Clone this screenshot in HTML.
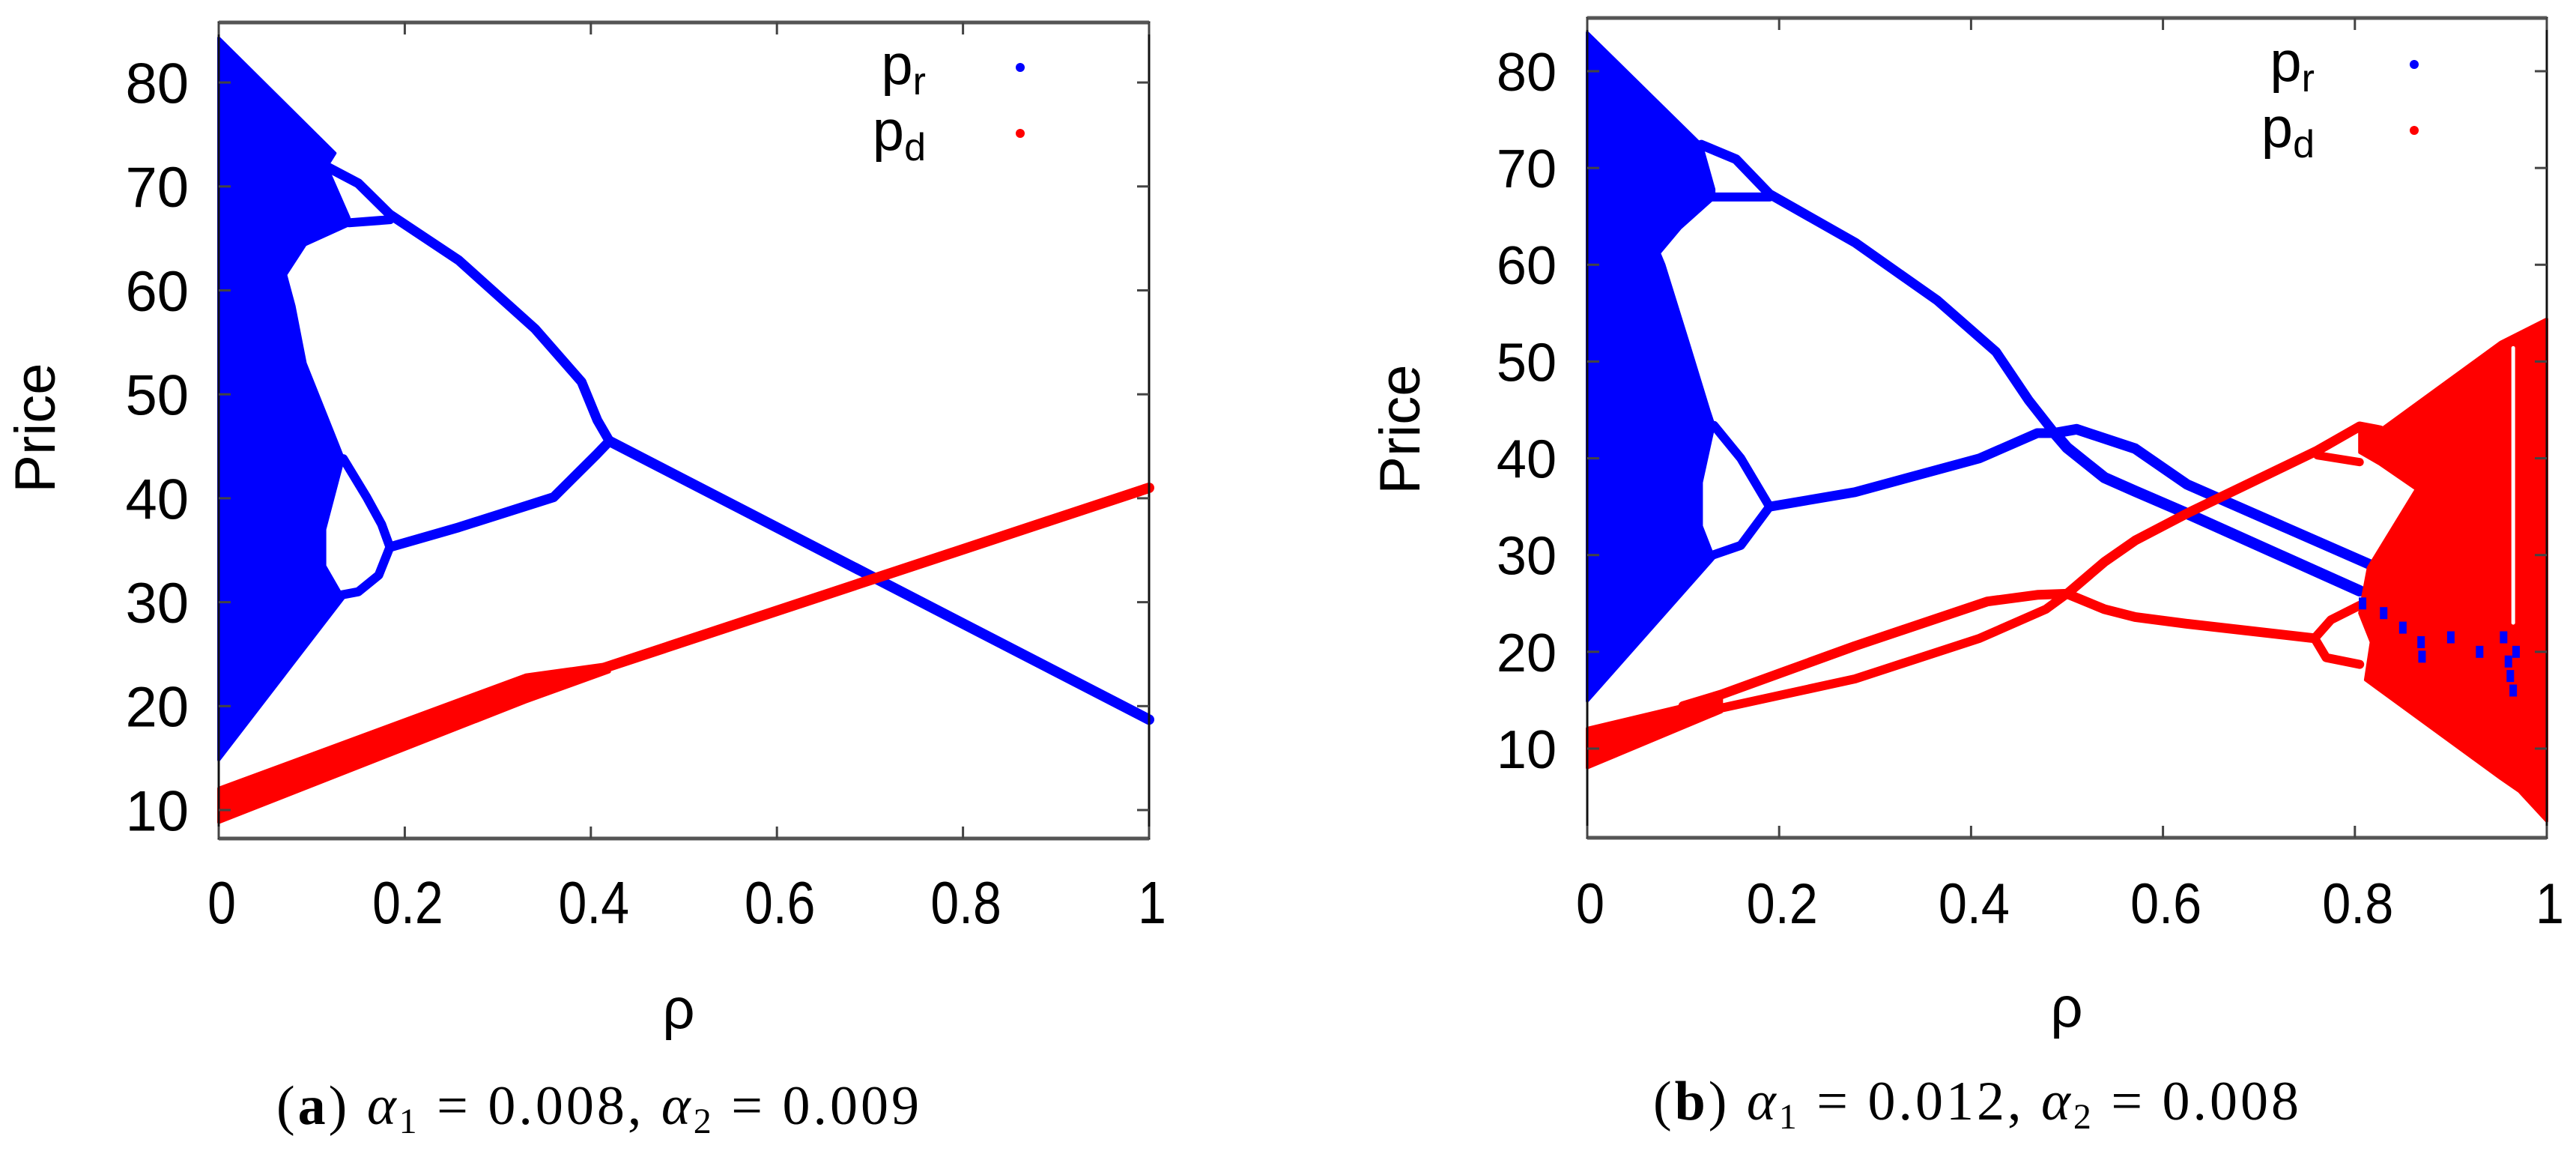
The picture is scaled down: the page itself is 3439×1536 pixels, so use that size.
<!DOCTYPE html>
<html><head><meta charset="utf-8"><style>
html,body{margin:0;padding:0;background:#fff;}
svg{display:block;}
</style></head><body>
<svg id="fig" width="3439" height="1536" viewBox="0 0 3439 1536" xmlns="http://www.w3.org/2000/svg" font-family="Liberation Sans, sans-serif"></svg>
<script>
// ---------- data (rho, price) ----------
const xTicks = [0, 0.2, 0.4, 0.6, 0.8, 1];
const xTickLabels = ["0", "0.2", "0.4", "0.6", "0.8", "1"];
const yTicks = [10, 20, 30, 40, 50, 60, 70, 80];
const yTickLabels = ["10", "20", "30", "40", "50", "60", "70", "80"];

// panel (a) p_r
const aBlueChaosRho   = [0, 0.125, 0.116, 0.14, 0.14, 0.093, 0.072, 0.081, 0.093, 0.126, 0.134, 0.114, 0.114, 0.134, 0];
const aBlueChaosPrice = [84.3, 73.2, 71.9, 67.0, 66.3, 64.4, 61.5, 58.5, 53.0, 45.6, 43.8, 37.0, 33.5, 30.4, 14.8];
const aBlueMainRho    = [0.116, 0.15, 0.184, 0.258, 0.34, 0.39, 0.407, 0.42, 0.406, 0.36, 0.258, 0.184];
const aBlueMainPrice  = [71.9, 70.3, 67.3, 62.9, 56.3, 51.2, 47.5, 45.5, 44.2, 40.1, 37.2, 35.3];
const aBlueLoopLowRho   = [0.14, 0.184];
const aBlueLoopLowPrice = [66.5, 66.8];
const aBlueSmallUpRho   = [0.134, 0.159, 0.175, 0.184];
const aBlueSmallUpPrice = [43.8, 40.1, 37.5, 35.3];
const aBlueSmallLowRho   = [0.126, 0.15, 0.172, 0.184];
const aBlueSmallLowPrice = [30.6, 31.0, 32.6, 35.3];
const aBlueTailRho   = [0.42, 1];
const aBlueTailPrice = [45.5, 18.7];
// panel (a) p_d
const aRedBandRho   = [0, 0.33, 0.42, 0.42, 0.33, 0];
const aRedBandPrice = [12.1, 23.0, 24.1, 23.3, 20.4, 8.8];
const aRedTailRho   = [0.415, 1];
const aRedTailPrice = [23.7, 41.0];

// panel (b) p_r
const bBlueChaosRho   = [0, 0.119, 0.132, 0.132, 0.097, 0.075, 0.08, 0.106, 0.127, 0.132, 0.119, 0.119, 0.132, 0];
const bBlueChaosPrice = [84.0, 72.4, 67.8, 66.9, 63.8, 61.2, 60.0, 51.7, 44.9, 43.4, 37.5, 33.0, 29.7, 14.9];
const bBlueMainRho   = [0.119, 0.155, 0.19, 0.279, 0.365, 0.426, 0.46, 0.487, 0.469, 0.409, 0.279, 0.19];
const bBlueMainPrice = [72.4, 70.9, 67.3, 62.3, 56.3, 51.0, 46.0, 42.6, 42.6, 40.0, 36.5, 35.0];
const bBlueLoopLowRho   = [0.13, 0.19];
const bBlueLoopLowPrice = [67.0, 67.0];
const bBlueSmallUpRho   = [0.132, 0.16, 0.19];
const bBlueSmallUpPrice = [43.4, 40.0, 35.0];
const bBlueSmallLowRho   = [0.125, 0.16, 0.19];
const bBlueSmallLowPrice = [29.8, 31.0, 35.0];
const bBlueUpperRho   = [0.487, 0.51, 0.571, 0.625, 0.823];
const bBlueUpperPrice = [42.6, 43.0, 41.0, 37.3, 28.7];
const bBlueLowerRho   = [0.487, 0.5, 0.539, 0.571, 0.625, 0.805];
const bBlueLowerPrice = [42.6, 41.1, 38.0, 36.6, 34.3, 26.3];
const bBlueSpeckRho   = [0.808, 0.83, 0.85, 0.869, 0.87, 0.9, 0.93, 0.955, 0.96, 0.962, 0.965, 0.968];
const bBlueSpeckPrice = [25.0, 24.0, 22.5, 21.0, 19.5, 21.5, 20.0, 21.5, 19.0, 17.5, 16.0, 20.0];
// panel (b) p_d
const bRedBandRho   = [0, 0.14, 0.14, 0];
const bRedBandPrice = [12.1, 15.4, 13.8, 8.0];
const bRedUpArmRho   = [0.1, 0.14, 0.279, 0.417, 0.47, 0.5];
const bRedUpArmPrice = [14.4, 15.6, 20.6, 25.2, 25.9, 26.0];
const bRedLowArmRho   = [0.1, 0.14, 0.279, 0.409, 0.478, 0.5];
const bRedLowArmPrice = [13.0, 14.2, 17.2, 21.4, 24.4, 26.0];
const bRedUpperRho   = [0.5, 0.539, 0.571, 0.625, 0.761, 0.805, 0.826];
const bRedUpperPrice = [26.0, 29.3, 31.5, 34.3, 40.8, 43.3, 42.9];
const bRedUpLoopLowRho   = [0.761, 0.805];
const bRedUpLoopLowPrice = [40.3, 39.6];
const bRedLowerRho   = [0.5, 0.539, 0.571, 0.625, 0.758];
const bRedLowerPrice = [26.0, 24.4, 23.6, 22.9, 21.4];
const bRedLoopRho   = [0.805, 0.775, 0.758, 0.77, 0.805];
const bRedLoopPrice = [24.8, 23.3, 21.4, 19.4, 18.7];
const bRedChaosRho   = [0.805, 0.826, 0.952, 1, 1, 0.971, 0.952, 0.811, 0.817, 0.805, 0.814, 0.864, 0.826, 0.805];
const bRedChaosPrice = [43.3, 42.9, 52.0, 54.4, 2.5, 5.6, 6.9, 17.1, 21.0, 24.0, 28.7, 36.8, 39.4, 40.6];
const bWhiteStripeRho   = [0.965, 0.965];
const bWhiteStripePrice = [51.4, 23.0];

// ---------- drawing ----------
const NS = "http://www.w3.org/2000/svg";
const svg = document.getElementById("fig");
function mk(tag, attrs, parent) {
  const e = document.createElementNS(NS, tag);
  for (const k in attrs) e.setAttribute(k, attrs[k]);
  (parent || svg).appendChild(e);
  return e;
}
function panel(cfg) {
  const g = mk("g", {});
  
  
  const sx = r => cfg.x0 + (cfg.x1 - cfg.x0) * r;
  const sy = p => cfg.y10 - (p - 10) * cfg.ppu;
  cfg.sx = sx; cfg.sy = sy; cfg.g = g;
  return cfg;
}
function poly(P, rho, price, color, name) {
  const pts = rho.map((r, i) => P.sx(r).toFixed(1) + "," + P.sy(price[i]).toFixed(1)).join(" ");
  const e = mk("polygon", {points: pts, fill: color, stroke: color, "stroke-width": 4, "stroke-linejoin": "round"}, P.g);
  
  
}
function line(P, rho, price, color, w, name) {
  const pts = rho.map((r, i) => P.sx(r).toFixed(1) + "," + P.sy(price[i]).toFixed(1)).join(" ");
  const e = mk("polyline", {points: pts, fill: "none", stroke: color, "stroke-width": w, "stroke-linejoin": "round", "stroke-linecap": "round"}, P.g);
  
  
}
function dots(P, rho, price, color, r, name) {
  rho.forEach((v, i) => {
    const c = mk("rect", {x: P.sx(v) - r, y: P.sy(price[i]) - r * 1.6, width: r * 2, height: r * 3.2, fill: color}, P.g);
    
    
  });
}
function axes(P) {
  const g = P.g;
  const fr = mk("rect", {x: P.x0, y: P.yTop, width: P.x1 - P.x0, height: P.yBot - P.yTop, fill: "none", stroke: "#111", "stroke-width": 3}, g);
  
  
  mk("line", {x1: P.x0, y1: P.yTop, x2: P.x1, y2: P.yTop, stroke: "#555", "stroke-width": 5}, g);
  mk("line", {x1: P.x0, y1: P.yBot, x2: P.x1, y2: P.yBot, stroke: "#555", "stroke-width": 5}, g);
  xTicks.forEach((t, i) => {
    const x = P.sx(t);
    mk("line", {x1: x, y1: P.yBot, x2: x, y2: P.yBot - 16, stroke: "#444", "stroke-width": 3}, g);
    mk("line", {x1: x, y1: P.yTop, x2: x, y2: P.yTop + 16, stroke: "#444", "stroke-width": 3}, g);
    const tx = mk("text", {x: 0, y: 0, "font-size": P.xfs, "text-anchor": "middle", fill: "#000",
      transform: `translate(${x + 4},${P.xLabY}) scale(${P.xsc},1)`}, g);
    tx.textContent = xTickLabels[i];
    
    
  });
  yTicks.forEach((t, i) => {
    const y = P.sy(t);
    mk("line", {x1: P.x0, y1: y, x2: P.x0 + 16, y2: y, stroke: "#444", "stroke-width": 3}, g);
    mk("line", {x1: P.x1, y1: y, x2: P.x1 - 16, y2: y, stroke: "#444", "stroke-width": 3}, g);
    const ty = mk("text", {x: P.yLabX, y: y + P.yfs * 0.36, "font-size": P.yfs, "text-anchor": "end", fill: "#000"}, g);
    ty.textContent = yTickLabels[i];
    
    
  });
  const yl = mk("text", {x: 0, y: 0, "font-size": 76, "text-anchor": "middle", transform: `translate(${P.yTitleX},${P.yTitleY}) rotate(-90)`}, g);
  yl.textContent = "Price";
  
  
  const xl = mk("text", {x: P.xTitleX, y: P.xTitleY, "font-size": 76, "text-anchor": "middle"}, g);
  xl.textContent = "ρ";
  
  
  const lg = mk("g", {}, g);
  
  
  const l1 = mk("text", {x: P.legX, y: P.legY, "font-size": 76, "text-anchor": "end"}, lg);
  l1.innerHTML = 'p<tspan font-size="52" dy="14">r</tspan>';
  
  
  const l2 = mk("text", {x: P.legX, y: P.legY + 88, "font-size": 76, "text-anchor": "end"}, lg);
  l2.innerHTML = 'p<tspan font-size="52" dy="14">d</tspan>';
  
  
  const d1 = mk("circle", {cx: P.legDotX, cy: P.legY - 22, r: 6, fill: "#0000ff"}, lg);
  
  
  const d2 = mk("circle", {cx: P.legDotX, cy: P.legY + 66, r: 6, fill: "#ff0000"}, lg);
  
  
  const cap = mk("text", {x: P.capX, y: P.capY, "font-size": 74, "letter-spacing": 4, "text-anchor": "middle", "font-family": "Liberation Serif, serif"}, g);
  cap.innerHTML = P.cap;
  
  
}
const BLUE = "#0000ff", RED = "#ff0000";

const A = panel({name: "panel-a", x0: 292, x1: 1534, yTop: 30, yBot: 1119, y10: 1081, ppu: 13.87,
  xfs: 80, xsc: 0.85, xLabY: 1232, yfs: 76, yLabX: 252, yTitleX: 73, yTitleY: 571, xTitleX: 906, xTitleY: 1372,
  legX: 1236, legY: 112, legDotX: 1362, capX: 800, capY: 1500,
  cap: '(<tspan font-weight="bold">a</tspan>)  <tspan font-style="italic">α</tspan><tspan font-size="48" dy="12">1</tspan><tspan dy="-12"> = 0.008, </tspan><tspan font-style="italic">α</tspan><tspan font-size="48" dy="12">2</tspan><tspan dy="-12"> = 0.009</tspan>'});
poly(A, aBlueChaosRho, aBlueChaosPrice, BLUE, "pr-chaotic-band");
line(A, aBlueMainRho, aBlueMainPrice, BLUE, 13, "pr-period-branch");
line(A, aBlueLoopLowRho, aBlueLoopLowPrice, BLUE, 12, "pr-upper-loop");
line(A, aBlueSmallUpRho, aBlueSmallUpPrice, BLUE, 12, "pr-lower-loop-top");
line(A, aBlueSmallLowRho, aBlueSmallLowPrice, BLUE, 12, "pr-lower-loop-bottom");
line(A, aBlueTailRho, aBlueTailPrice, BLUE, 14, "pr-stable-branch");
poly(A, aRedBandRho, aRedBandPrice, RED, "pd-band");
line(A, aRedTailRho, aRedTailPrice, RED, 14, "pd-stable-branch");
axes(A);

const B = panel({name: "panel-b", x0: 2119, x1: 3400, yTop: 24, yBot: 1118, y10: 999, ppu: 12.914,
  xfs: 76, xsc: 0.9, xLabY: 1232, yfs: 72, yLabX: 2078, yTitleX: 1895, yTitleY: 573, xTitleX: 2759, xTitleY: 1370,
  legX: 3090, legY: 108, legDotX: 3223, capX: 2640, capY: 1494,
  cap: '(<tspan font-weight="bold">b</tspan>)  <tspan font-style="italic">α</tspan><tspan font-size="48" dy="12">1</tspan><tspan dy="-12"> = 0.012, </tspan><tspan font-style="italic">α</tspan><tspan font-size="48" dy="12">2</tspan><tspan dy="-12"> = 0.008</tspan>'});
poly(B, bBlueChaosRho, bBlueChaosPrice, BLUE, "pr-chaotic-band");
line(B, bBlueMainRho, bBlueMainPrice, BLUE, 13, "pr-period-branch");
line(B, bBlueLoopLowRho, bBlueLoopLowPrice, BLUE, 12, "pr-upper-loop");
line(B, bBlueSmallUpRho, bBlueSmallUpPrice, BLUE, 12, "pr-lower-loop-top");
line(B, bBlueSmallLowRho, bBlueSmallLowPrice, BLUE, 12, "pr-lower-loop-bottom");
line(B, bBlueUpperRho, bBlueUpperPrice, BLUE, 14, "pr-upper-branch");
line(B, bBlueLowerRho, bBlueLowerPrice, BLUE, 15, "pr-lower-branch");
poly(B, bRedBandRho, bRedBandPrice, RED, "pd-band");
line(B, bRedUpArmRho, bRedUpArmPrice, RED, 13, "pd-upper-arm");
line(B, bRedLowArmRho, bRedLowArmPrice, RED, 12, "pd-lower-arm");
line(B, bRedUpperRho, bRedUpperPrice, RED, 13, "pd-upper-branch");
line(B, bRedUpLoopLowRho, bRedUpLoopLowPrice, RED, 11, "pd-upper-loop");
line(B, bRedLowerRho, bRedLowerPrice, RED, 13, "pd-lower-branch");
line(B, bRedLoopRho, bRedLoopPrice, RED, 12, "pd-lower-loop");
poly(B, bRedChaosRho, bRedChaosPrice, RED, "pd-chaotic-band");
line(B, bWhiteStripeRho, bWhiteStripePrice, "#fff", 5, "pd-periodic-window");
dots(B, bBlueSpeckRho, bBlueSpeckPrice, BLUE, 5, "pr-chaotic-point");
axes(B);
</script>
</body></html>
